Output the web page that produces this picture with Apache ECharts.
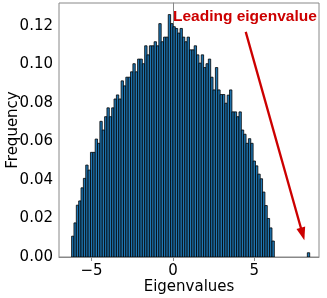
<!DOCTYPE html>
<html><head><meta charset="utf-8">
<script src="https://cdn.jsdelivr.net/npm/echarts@6/dist/echarts.min.js"></script>
<style>html,body{margin:0;padding:0;background:#fff}#c{width:327px;height:298px}</style>
</head><body><div id="c"></div>
<script>
// Histogram bins (density)
const binStart = -6.226;
const binWidth = 0.1448;
const frequencies = [
  0.0108, 0.0177, 0.0269, 0.0291, 0.0359, 0.0408, 0.0477, 0.0451, 0.0543, 0.0543,
  0.0612, 0.0590, 0.0704, 0.0659, 0.0728, 0.0774, 0.0728, 0.0774, 0.0820, 0.0841,
  0.0820, 0.0914, 0.0888, 0.0933, 0.0933, 0.0961, 0.1003, 0.0961, 0.1027, 0.1027,
  0.1003, 0.1096, 0.1049, 0.1096, 0.1096, 0.1117, 0.1096, 0.1211, 0.1117, 0.1141,
  0.1141, 0.1258, 0.1211, 0.1195, 0.1186, 0.1162, 0.1186, 0.1141, 0.1117, 0.1141,
  0.1075, 0.1075, 0.1096, 0.1049, 0.1006, 0.1049, 0.0983, 0.1003, 0.1027, 0.0933,
  0.0867, 0.0983, 0.0867, 0.0843, 0.0843, 0.0798, 0.0840, 0.0867, 0.0753, 0.0753,
  0.0728, 0.0753, 0.0659, 0.0637, 0.0590, 0.0614, 0.0590, 0.0498, 0.0473, 0.0430,
  0.0406, 0.0337, 0.0267, 0.0200, 0.0151, 0.0083,
  0, 0, 0, 0, 0, 0, 0, 0, 0, 0, 0, 0, 0, 0,
  0.0022
];
const xTicks = [-5, 0, 5];
const yTicks = [0, 0.02, 0.04, 0.06, 0.08, 0.10, 0.12];
const xName = 'Eigenvalues';
const yName = 'Frequency';
const annotationText = 'Leading eigenvalue';
const annotationTextAt = [0.0, 0.1245];
const arrowFrom = [4.47, 0.1168];
const arrowTo = [8.07, 0.0087];

const barData = [];
frequencies.forEach((f, i) => {
  if (f > 0) barData.push([binStart + i * binWidth, binStart + (i + 1) * binWidth, f]);
});

const chart = echarts.init(document.getElementById('c'), null, {renderer: 'canvas'});
const axisFont = {fontFamily: 'DejaVu Sans', fontSize: 15, color: '#000'};
chart.setOption({
  animation: false,
  grid: {left: 59, top: 3, width: 260, height: 254, containLabel: false, outerBoundsMode: 'none',
         show: true, borderColor: '#888', borderWidth: 1, backgroundColor: 'transparent'},
  xAxis: {
    type: 'value', min: -7.0, max: 8.97,
    name: xName, nameLocation: 'middle', nameGap: 23, nameMoveOverlap: false,
    nameTextStyle: axisFont,
    axisLine: {show: true, lineStyle: {color: '#888', width: 1}},
    axisTick: {show: true, length: 4, lineStyle: {color: '#888'}, customValues: xTicks},
    axisLabel: Object.assign({margin: 7, customValues: xTicks, formatter: v => String(v).replace('-', '\u2212')}, axisFont),
    splitLine: {show: false}
  },
  yAxis: {
    type: 'value', min: 0, max: 0.1318,
    name: yName, nameLocation: 'middle', nameGap: 38.5, nameMoveOverlap: false,
    nameTextStyle: axisFont,
    axisLine: {show: true, lineStyle: {color: '#888', width: 1}},
    axisTick: {show: true, length: 3, lineStyle: {color: '#888'}, customValues: yTicks},
    axisLabel: Object.assign({margin: 6, customValues: yTicks, formatter: v => v.toFixed(2)}, axisFont),
    splitLine: {show: false}
  },
  series: [{
    type: 'custom',
    clip: true,
    encode: {x: [0, 1], y: 2},
    data: barData,
    renderItem: (params, api) => {
      const p0 = api.coord([api.value(0), api.value(2)]);
      const p1 = api.coord([api.value(1), 0]);
      return {
        type: 'rect',
        shape: {x: p0[0], y: p0[1], width: p1[0] - p0[0], height: p1[1] - p0[1]},
        style: {fill: '#1f77b4', stroke: '#000', lineWidth: 0.8}
      };
    }
  }]
});

const a = chart.convertToPixel({gridIndex: 0}, arrowFrom);
const b = chart.convertToPixel({gridIndex: 0}, arrowTo);
const t = chart.convertToPixel({gridIndex: 0}, annotationTextAt);
const dx = b[0] - a[0], dy = b[1] - a[1];
const len = Math.sqrt(dx * dx + dy * dy);
const ux = dx / len, uy = dy / len;
const headLen = 13, headHalf = 4.5;
const bx = b[0] - ux * headLen, by = b[1] - uy * headLen;
const red = '#cc0000';
chart.setOption({
  graphic: [
    {type: 'line', shape: {x1: a[0], y1: a[1], x2: bx + ux * 2, y2: by + uy * 2}, style: {stroke: red, lineWidth: 2.3}, z: 10},
    {type: 'polygon', shape: {points: [[b[0], b[1]], [bx - uy * headHalf, by + ux * headHalf], [bx + uy * headHalf, by - ux * headHalf]]}, style: {fill: red}, z: 10},
    {type: 'text', x: t[0], y: t[1], style: {text: annotationText, fill: red, font: 'bold 15.5px "Liberation Sans", Arial, sans-serif', align: 'left', verticalAlign: 'middle'}, z: 10}
  ]
});
</script>
</body></html>
